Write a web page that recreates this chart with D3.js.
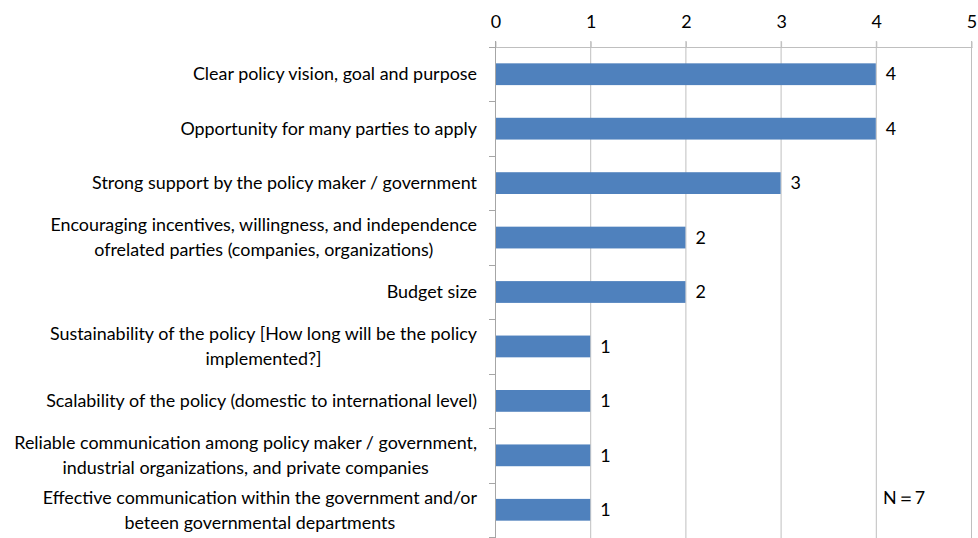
<!DOCTYPE html>
<html>
<head>
<meta charset="utf-8">
<script src="https://cdn.jsdelivr.net/npm/d3@7"></script>
<style>
  html, body { margin: 0; padding: 0; background: #fff; }
  svg { display: block; font-family: Lato, "Open Sans", sans-serif; }
</style>
</head>
<body>
<svg id="chart" width="978" height="538"></svg>
<script>
// Success factors of the policy, with number of respondents (N=7)
const categories = [
  ["Clear policy vision, goal and purpose"],
  ["Opportunity for many parties to apply"],
  ["Strong support by the policy maker / government"],
  ["Encouraging incentives, willingness, and independence", "ofrelated parties (companies, organizations)"],
  ["Budget size"],
  ["Sustainability of the policy [How long will be the policy", "implemented?]"],
  ["Scalability of the policy (domestic to international level)"],
  ["Reliable communication among policy maker / government,", "industrial organizations, and private companies"],
  ["Effective communication within the government and/or", "beteen governmental departments"]
];
const values = [4, 4, 3, 2, 2, 1, 1, 1, 1];
const tickValues = [0, 1, 2, 3, 4, 5];
const note = "N\uFF1D7";

const svg = d3.select("#chart");
const plotLeft = 495, plotRight = 971, plotTop = 47, plotBottom = 537;
const fontSize = 17.9;

const x = d3.scaleLinear().domain([0, 5]).range([plotLeft, plotRight]);
const y = d3.scaleBand().domain(d3.range(categories.length)).range([plotTop, plotBottom]).paddingInner(0.6).paddingOuter(0.3);
const band = d3.scaleBand().domain(d3.range(categories.length)).range([plotTop, plotBottom]);

// vertical gridlines
svg.append("g").selectAll("line").data(tickValues.slice(1)).join("line")
  .attr("x1", d => x(d) + 0.5).attr("x2", d => x(d) + 0.5)
  .attr("y1", plotTop - 6).attr("y2", 538)
  .attr("stroke", "#bfbfbf").attr("stroke-width", 1);

// top value axis
const xAxis = svg.append("g").attr("transform", `translate(0.5,${plotTop + 0.5})`)
  .call(d3.axisTop(x).tickValues(tickValues).tickFormat(d3.format("d"))
    .tickSize(6).tickPadding(14).tickSizeOuter(0));
xAxis.select(".domain").attr("stroke", "#bfbfbf").attr("d", `M${plotLeft - 6},0H${plotRight + 1}`);
xAxis.selectAll(".tick line").attr("stroke", "#bfbfbf");
xAxis.selectAll(".tick text").attr("font-size", fontSize).attr("fill", "#000")
  .attr("font-family", "Lato, 'Open Sans', sans-serif");

// category axis line with boundary ticks
const catAxis = svg.append("g");
catAxis.append("line").attr("x1", plotLeft + 0.5).attr("x2", plotLeft + 0.5)
  .attr("y1", plotTop - 6).attr("y2", 538).attr("stroke", "#a6a6a6");
catAxis.selectAll("line.b").data(d3.range(categories.length + 1)).join("line").attr("class", "b")
  .attr("x1", plotLeft - 6).attr("x2", plotLeft)
  .attr("y1", d => Math.round(plotTop + d * band.step()) + 0.5)
  .attr("y2", d => Math.round(plotTop + d * band.step()) + 0.5)
  .attr("stroke", "#a6a6a6");

// bars
svg.append("g").selectAll("rect").data(values).join("rect")
  .attr("x", x(0) + 1)
  .attr("y", (d, i) => y(i))
  .attr("width", d => x(d) - x(0) - 1)
  .attr("height", y.bandwidth())
  .attr("fill", "#4f81bd");

// value labels
svg.append("g").selectAll("text").data(values).join("text")
  .attr("x", d => x(d) + 10)
  .attr("y", (d, i) => y(i) + y.bandwidth() / 2)
  .attr("dy", "0.35em")
  .attr("font-size", fontSize).attr("fill", "#000")
  .text(d => d);

// category labels (multi-line ones centred within a right-aligned block)
const lineH = 25;
const labelG = svg.append("g").attr("font-size", fontSize).attr("fill", "#000");
categories.forEach((lines, i) => {
  const cy = y(i) + y.bandwidth() / 2;
  const g = labelG.append("g");
  const texts = lines.map((t, k) => g.append("text")
    .attr("y", cy + (k - (lines.length - 1) / 2) * lineH)
    .attr("dy", "0.35em").text(t));
  const widths = texts.map(t => t.node().getComputedTextLength());
  const maxW = d3.max(widths);
  const cx = 477 - maxW / 2;
  texts.forEach(t => t.attr("x", cx).attr("text-anchor", "middle"));
});

// sample size note
svg.append("text").attr("x", 883).attr("y", 498).attr("dy", "0.35em")
  .attr("font-size", fontSize).attr("fill", "#000").text(note);
</script>
</body>
</html>
